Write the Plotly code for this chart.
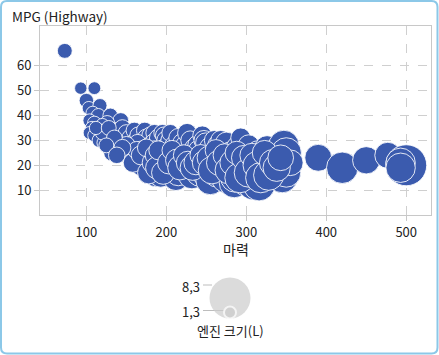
import plotly.graph_objects as go

# ---- data ----
horsepower = [
    73, 93, 110, 100, 103, 117, 108, 115, 130, 104, 110, 143, 126, 120, 107, 115, 137, 104, 110, 125,
    118, 130, 140, 145, 116, 122, 141, 135, 132, 148, 140, 130,
    150, 155, 160, 162, 165, 170, 173, 175, 180, 180, 185, 185, 190, 195, 197, 200, 151, 155, 160, 164,
    165, 170, 172, 175, 178, 180, 182, 185, 187, 190, 192, 193, 193, 195, 197, 198, 200, 200, 159, 168,
    205, 205, 210, 210, 210, 212, 215, 215, 218, 220, 220, 224, 225, 226, 228, 230, 230, 232, 235, 235,
    238, 240, 240, 240, 242, 245, 245, 247, 249, 250, 250, 252, 255, 255, 258, 260, 260, 260,
    264, 265, 268, 270, 270, 272, 275, 275, 280, 280, 282, 285, 285, 286, 290, 290, 290, 293, 295, 295,
    298, 300, 301, 300, 300, 303, 305, 308, 310, 310, 312, 315, 316, 318, 320, 322, 325, 326, 330, 330,
    334, 335, 340, 340, 345, 347, 349, 350, 350, 355,
    150, 158, 163, 168, 175, 178, 183, 186, 188, 190, 196, 203, 207, 213, 217, 222, 227, 233, 237, 243,
    248, 253, 257, 262, 266, 273, 278, 283, 288, 292, 297, 303, 307, 313, 318, 323, 328, 333, 338, 343,
    120, 112, 128, 135, 125, 145, 138,
    390, 420, 450, 477, 500, 493, 493,
]
mpg_highway = [
    66, 51, 51, 46, 43, 44, 41, 40, 40, 38, 37, 38, 37, 36, 35, 34, 34, 33, 32, 33,
    31, 31, 32, 35, 30, 29, 28, 27, 25, 30, 26, 29,
    33, 31, 34, 30, 32, 29, 34, 31, 32, 28, 33, 29, 31, 33, 32, 30, 26, 24, 27, 29,
    23, 26, 22, 24, 20, 23, 18, 26, 16, 22, 20, 25, 16, 19, 25, 27, 23, 18, 23, 20,
    30, 33, 28, 24, 20, 15, 31, 17, 26, 22, 29, 28, 19, 33, 24, 25, 30, 16, 23, 27,
    24, 28, 26, 19, 17, 32, 22, 30, 29, 25, 17, 20, 27, 14, 23, 24, 20, 30,
    17, 28, 30, 26, 22, 19, 29, 15, 25, 20, 23, 16, 13, 15, 27, 23, 18, 31, 17, 21,
    25, 26, 24, 16, 14, 28, 19, 21, 23, 13, 17, 25, 12, 20, 22, 18, 17, 27, 24, 20,
    24, 18, 26, 22, 15, 28, 22, 25, 17, 21,
    28, 21, 26, 24, 27, 17, 21, 24, 19, 26, 17, 21, 26, 22, 19, 24, 21, 19, 21, 24,
    21, 23, 18, 26, 21, 24, 18, 21, 25, 15, 23, 17, 24, 20, 15, 25, 16, 21, 19, 23,
    33, 35, 35, 31, 28, 27, 24,
    23, 19, 22, 24, 20, 21, 19,
]
engine_size = [
    2.0, 1.4, 1.5, 1.9, 1.6, 1.8, 1.7, 1.8, 2.0, 1.6, 1.7, 2.2, 2.0, 1.8, 1.6, 1.8, 2.2, 1.5, 1.6, 2.0,
    1.8, 2.0, 2.2, 2.4, 1.8, 1.8, 2.0, 2.4, 2.4, 2.4, 2.5, 2.0,
    2.4, 2.5, 2.4, 2.4, 2.5, 2.5, 2.4, 2.7, 2.5, 2.7, 2.5, 3.0, 2.7, 2.5, 2.5, 3.0, 2.7, 2.7, 2.4, 2.5,
    3.0, 3.0, 3.0, 3.0, 3.4, 3.3, 4.0, 3.0, 4.0, 3.5, 3.5, 3.0, 4.2, 3.8, 3.0, 2.8, 3.5, 4.2, 3.0, 3.4,
    3.0, 2.5, 3.0, 3.5, 4.0, 4.6, 3.0, 4.7, 3.2, 3.8, 3.0, 3.2, 4.6, 3.0, 3.5, 3.5, 3.0, 5.0, 4.0, 3.0,
    1.8, 3.5, 3.2, 4.7, 5.0, 3.0, 4.2, 3.2, 3.2, 3.5, 5.3, 4.6, 3.6, 5.4, 4.0, 3.8, 4.6, 3.2,
    5.4, 3.5, 3.2, 3.5, 4.3, 4.7, 3.6, 5.7, 3.7, 4.4, 4.2, 5.3, 5.7, 5.4, 4.2, 4.2, 5.0, 3.2, 5.3, 4.6,
    4.0, 3.2, 3.8, 5.4, 6.0, 3.5, 4.6, 4.6, 4.4, 6.8, 5.4, 4.3, 6.0, 5.0, 4.7, 5.5, 5.7, 4.3, 4.2, 5.0,
    4.4, 5.4, 4.8, 4.5, 5.7, 5.7, 4.6, 5.7, 5.4, 4.6,
    2.7, 3.0, 2.7, 3.0, 2.7, 3.8, 3.5, 3.2, 3.8, 3.0, 4.0, 3.8, 3.2, 3.8, 4.3, 3.5, 4.0, 4.5, 4.2, 3.6,
    4.4, 4.0, 5.0, 3.6, 4.5, 4.0, 5.0, 4.6, 4.0, 5.7, 4.4, 5.4, 4.2, 5.0, 5.7, 4.4, 5.7, 4.8, 5.0, 4.6,
    1.8, 1.6, 2.0, 2.2, 2.0, 2.5, 2.4,
    4.9, 6.0, 5.0, 4.7, 8.3, 5.5, 5.5,
]
legend_values = [8.3, 1.3]
legend_labels = ["8,3", "1,3"]
x_ticks = [100, 200, 300, 400, 500]
y_ticks = [10, 20, 30, 40, 50, 60]

# ---- styling ----
W, H = 439, 355
ML, MR, MT, MB = 40, 8, 26, 14
PW, PH = W - ML - MR, H - MT - MB
FONT = "Noto Sans CJK KR, DejaVu Sans, sans-serif"
BLUE = "#3B5BAE"
GRID = "#CFCFCF"
FRAME = "#C8C8C8"
D_MIN, D_MAX = 12, 41
E_MIN, E_MAX = min(legend_values), max(legend_values)


def diam(e):
    return D_MIN + (e - E_MIN) / (E_MAX - E_MIN) * (D_MAX - D_MIN)


def px(x):
    return (x - ML) / PW


def py(y):
    return (H - MB - y) / PH


main_bottom = py(215)

fig = go.Figure()
fig.add_trace(go.Scatter(
    x=horsepower, y=mpg_highway, mode="markers",
    marker=dict(size=[diam(e) for e in engine_size], sizemode="diameter",
                color=BLUE, opacity=1, line=dict(color="rgba(255,255,255,0.85)", width=1)),
    hoverinfo="x+y", showlegend=False,
))

# size legend (drawn on a helper axis in pixel units)
leg_cx, leg_bottom = 230, 318.5
leg_sizes = [diam(v) for v in legend_values]
fig.add_trace(go.Scatter(
    x=[leg_cx] * len(legend_values),
    y=[leg_bottom - s / 2 for s in leg_sizes],
    mode="markers",
    marker=dict(size=leg_sizes, sizemode="diameter", color="#CCCCCC",
                line=dict(color=["#CCCCCC", "white"], width=[0, 2])),
    xaxis="x2", yaxis="y2", hoverinfo="skip", showlegend=False,
))

label_y = [285, 310.5]
line_end = [212, 224]
annotations = []
shapes = []
for lab, ly, le in zip(legend_labels, label_y, line_end):
    annotations.append(dict(x=202, y=ly + 1, xref="x2", yref="y2", text=lab, showarrow=False,
                            xanchor="right", yanchor="middle",
                            font=dict(family=FONT, size=13, color="#222")))
    shapes.append(dict(type="line", xref="x2", yref="y2", x0=203, x1=le, y0=ly, y1=ly,
                       line=dict(color="#BDBDBD", width=1), layer="below"))

annotations.append(dict(x=leg_cx, y=330, xref="x2", yref="y2", text="엔진 크기(L)", showarrow=False,
                        xanchor="center", yanchor="middle",
                        font=dict(family=FONT, size=13, color="#222")))
annotations.append(dict(x=px(10), y=py(16), xref="paper", yref="paper", text="MPG (Highway)",
                        showarrow=False, xanchor="left", yanchor="middle",
                        font=dict(family=FONT, size=13.5, color="#222")))
annotations.append(dict(x=0.5, y=py(249), xref="paper", yref="paper", text="마력",
                        showarrow=False, xanchor="center", yanchor="middle",
                        font=dict(family=FONT, size=14, color="#222")))

# rounded outer border
x0, y0, x1, y1, r = 1, 1, 437.5, 353.5, 6
pts = [
    ("M", (x0 + r, y0)), ("L", (x1 - r, y0)), ("Q", (x1, y0), (x1, y0 + r)),
    ("L", (x1, y1 - r)), ("Q", (x1, y1), (x1 - r, y1)), ("L", (x0 + r, y1)),
    ("Q", (x0, y1), (x0, y1 - r)), ("L", (x0, y0 + r)), ("Q", (x0, y0), (x0 + r, y0)),
]
path = ""
for item in pts:
    cmd = item[0]
    coords = " ".join(f"{px(a):.5f},{py(b):.5f}" for a, b in item[1:])
    path += f"{cmd} {coords} "
path += "Z"
shapes.append(dict(type="path", xref="paper", yref="paper", path=path,
                   line=dict(color="#8CC8E8", width=2), fillcolor="rgba(0,0,0,0)"))

axis_common = dict(showgrid=True, gridcolor=GRID, griddash="dash", gridwidth=1,
                   showline=True, linecolor=FRAME, linewidth=1, mirror=True,
                   ticks="outside", ticklen=5, tickcolor=FRAME, zeroline=False,
                   automargin=False,
                   tickfont=dict(family=FONT, size=13, color="#222"))

fig.update_layout(
    width=W, height=H, margin=dict(l=ML, r=MR, t=MT, b=MB, pad=0, autoexpand=False),
    paper_bgcolor="white", plot_bgcolor="white",
    xaxis=dict(range=[42, 531], tickvals=x_ticks, domain=[0, 1], anchor="y", **axis_common),
    yaxis=dict(range=[0, 76], tickvals=y_ticks, domain=[main_bottom, 1], anchor="x", **axis_common),
    xaxis2=dict(range=[ML, W - MR], domain=[0, 1], anchor="y2", visible=False, fixedrange=True),
    yaxis2=dict(range=[H - MB, 260], domain=[0, py(260)], anchor="x2", visible=False, fixedrange=True),
    annotations=annotations, shapes=shapes, showlegend=False,
    font=dict(family=FONT, size=12, color="#222"),
)

fig.write_html("out.html", config={"displayModeBar": False},
               post_script="document.body.style.margin='0px';document.body.style.overflow='hidden';")
